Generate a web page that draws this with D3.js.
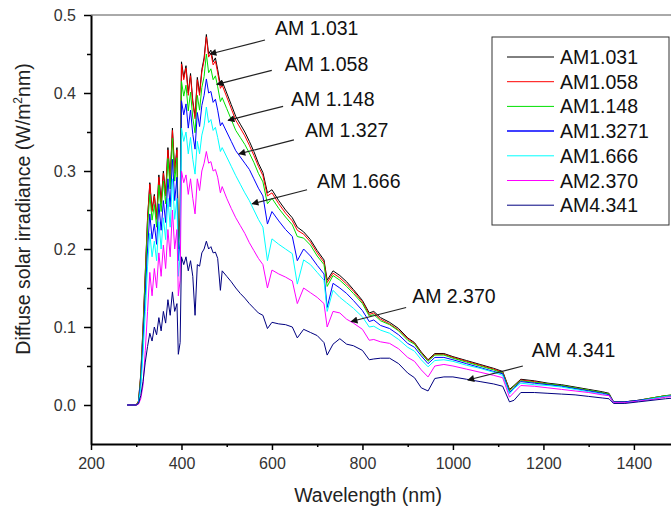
<!DOCTYPE html>
<html>
<head>
<meta charset="utf-8">
<title>Diffuse solar irradiance</title>
<script src="https://cdn.jsdelivr.net/npm/d3@7"></script>
<style>
  body { margin: 0; background: #fff; }
  svg { font-family: "Liberation Sans", Arial, sans-serif; }
</style>
</head>
<body>
<svg id="chart"></svg>
<script>
// wavelengths (nm) and diffuse irradiance (W/m2nm)
var wavelength = [280,300,305,310,315,320,325,330,335,340,
  345,350,355,360,365,370,375,380,385,390,
  393,397,400,405,410,415,420,425,430,435,
  440,445,450,455,460,465,470,475,480,486,
  490,500,510,520,530,540,550,560,570,580,
  590,600,615,630,645,656,670,685,700,715,
  722,735,750,765,780,800,815,825,840,860,
  880,900,915,930,945,960,980,1000,1030,1060,
  1090,1110,1125,1135,1150,1180,1210,1240,1270,1300,
  1330,1345,1355,1380,1410,1440,1470,1490];

var am1031 = [0, 0, 0.005, 0.04, 0.10, 0.17, 0.24, 0.285, 0.25, 0.27,
  0.24, 0.295, 0.26, 0.30, 0.27, 0.33, 0.29, 0.355, 0.30, 0.33,
  0.21, 0.24, 0.44, 0.42, 0.435, 0.40, 0.425, 0.39, 0.37, 0.42,
  0.40, 0.43, 0.445, 0.475, 0.45, 0.455, 0.44, 0.445, 0.43, 0.41,
  0.415, 0.40, 0.385, 0.37, 0.36, 0.35, 0.338, 0.325, 0.31, 0.298,
  0.272, 0.276, 0.262, 0.25, 0.24, 0.228, 0.222, 0.212, 0.198, 0.186,
  0.16, 0.172, 0.166, 0.158, 0.148, 0.134, 0.118, 0.12, 0.112, 0.106,
  0.098, 0.086, 0.08, 0.068, 0.058, 0.066, 0.066, 0.062, 0.057, 0.052,
  0.047, 0.043, 0.02, 0.025, 0.033, 0.031, 0.028, 0.026, 0.023, 0.02,
  0.017, 0.015, 0.004, 0.004, 0.006, 0.009, 0.012, 0.013];

var am1058 = [0, 0, 0.005, 0.038, 0.098, 0.168, 0.238, 0.283, 0.248, 0.268,
  0.238, 0.292, 0.258, 0.297, 0.268, 0.327, 0.288, 0.352, 0.297, 0.327,
  0.208, 0.238, 0.437, 0.417, 0.432, 0.397, 0.422, 0.387, 0.367, 0.417,
  0.397, 0.427, 0.442, 0.472, 0.446, 0.451, 0.436, 0.441, 0.426, 0.406,
  0.41, 0.395, 0.38, 0.365, 0.355, 0.345, 0.333, 0.32, 0.306, 0.294,
  0.268, 0.272, 0.258, 0.246, 0.236, 0.224, 0.219, 0.209, 0.195, 0.183,
  0.157, 0.169, 0.163, 0.155, 0.146, 0.132, 0.116, 0.118, 0.11, 0.104,
  0.096, 0.085, 0.079, 0.067, 0.057, 0.065, 0.065, 0.061, 0.056, 0.051,
  0.046, 0.042, 0.019, 0.024, 0.032, 0.03, 0.027, 0.025, 0.022, 0.019,
  0.016, 0.014, 0.004, 0.004, 0.006, 0.009, 0.012, 0.013];

var am1148 = [0, 0, 0.004, 0.035, 0.092, 0.16, 0.228, 0.27, 0.237, 0.257,
  0.228, 0.282, 0.248, 0.287, 0.258, 0.316, 0.277, 0.342, 0.287, 0.317,
  0.2, 0.23, 0.415, 0.396, 0.41, 0.377, 0.401, 0.368, 0.349, 0.397,
  0.378, 0.407, 0.421, 0.45, 0.426, 0.431, 0.417, 0.422, 0.408, 0.389,
  0.394, 0.38, 0.366, 0.352, 0.343, 0.334, 0.323, 0.311, 0.297, 0.286,
  0.258, 0.265, 0.252, 0.241, 0.231, 0.216, 0.214, 0.205, 0.191, 0.18,
  0.152, 0.166, 0.16, 0.152, 0.143, 0.13, 0.114, 0.116, 0.108, 0.103,
  0.095, 0.083, 0.078, 0.066, 0.056, 0.064, 0.064, 0.06, 0.055, 0.05,
  0.045, 0.041, 0.018, 0.024, 0.031, 0.029, 0.027, 0.025, 0.022, 0.019,
  0.016, 0.014, 0.004, 0.004, 0.006, 0.009, 0.012, 0.013];

var am13271 = [0, 0, 0.003, 0.03, 0.08, 0.14, 0.2, 0.245, 0.213, 0.232,
  0.206, 0.258, 0.224, 0.262, 0.234, 0.29, 0.254, 0.315, 0.262, 0.292,
  0.185, 0.21, 0.39, 0.372, 0.386, 0.355, 0.378, 0.347, 0.328, 0.375,
  0.357, 0.384, 0.397, 0.418, 0.4, 0.402, 0.388, 0.392, 0.378, 0.358,
  0.362, 0.35, 0.338, 0.326, 0.318, 0.31, 0.302, 0.29, 0.278, 0.268,
  0.232, 0.248, 0.236, 0.225, 0.216, 0.185, 0.2, 0.191, 0.179, 0.168,
  0.125, 0.156, 0.15, 0.143, 0.134, 0.121, 0.107, 0.109, 0.102, 0.098,
  0.09, 0.079, 0.074, 0.063, 0.053, 0.061, 0.061, 0.058, 0.053, 0.048,
  0.043, 0.04, 0.016, 0.022, 0.03, 0.028, 0.026, 0.024, 0.021, 0.018,
  0.015, 0.013, 0.004, 0.004, 0.006, 0.008, 0.011, 0.012];

var am1666 = [0, 0, 0.002, 0.022, 0.065, 0.12, 0.178, 0.22, 0.19, 0.21,
  0.185, 0.235, 0.2, 0.24, 0.212, 0.265, 0.228, 0.29, 0.238, 0.265,
  0.165, 0.19, 0.355, 0.338, 0.35, 0.322, 0.343, 0.315, 0.296, 0.338,
  0.322, 0.346, 0.358, 0.382, 0.362, 0.366, 0.352, 0.356, 0.343, 0.325,
  0.33, 0.318, 0.306, 0.294, 0.283, 0.272, 0.262, 0.25, 0.238, 0.228,
  0.185, 0.213, 0.206, 0.2, 0.194, 0.155, 0.186, 0.18, 0.17, 0.16,
  0.12, 0.147, 0.138, 0.131, 0.124, 0.113, 0.1, 0.101, 0.096, 0.092,
  0.084, 0.074, 0.069, 0.058, 0.049, 0.057, 0.058, 0.056, 0.051, 0.047,
  0.042, 0.038, 0.014, 0.021, 0.028, 0.026, 0.025, 0.023, 0.02, 0.017,
  0.014, 0.012, 0.003, 0.003, 0.005, 0.008, 0.011, 0.012];

var am2370 = [0, 0, 0.001, 0.008, 0.025, 0.07, 0.12, 0.17, 0.14, 0.175,
  0.15, 0.195, 0.165, 0.205, 0.175, 0.225, 0.19, 0.25, 0.2, 0.225,
  0.14, 0.16, 0.3, 0.285, 0.295, 0.27, 0.29, 0.265, 0.245, 0.29,
  0.275, 0.3, 0.31, 0.325, 0.31, 0.312, 0.3, 0.302, 0.292, 0.272,
  0.28, 0.265, 0.252, 0.24, 0.23, 0.22, 0.208, 0.198, 0.188, 0.18,
  0.15, 0.173, 0.168, 0.164, 0.159, 0.13, 0.15, 0.144, 0.138, 0.13,
  0.1, 0.12, 0.118, 0.11, 0.105, 0.097, 0.083, 0.084, 0.081, 0.079,
  0.072, 0.061, 0.056, 0.045, 0.036, 0.05, 0.052, 0.05, 0.046, 0.042,
  0.038, 0.035, 0.01, 0.016, 0.025, 0.024, 0.022, 0.02, 0.018, 0.016,
  0.013, 0.012, 0.003, 0.003, 0.005, 0.007, 0.01, 0.011];

var am4341 = [0, 0, 0.002, 0.012, 0.03, 0.055, 0.075, 0.092, 0.082, 0.1,
  0.09, 0.112, 0.095, 0.12, 0.105, 0.135, 0.115, 0.145, 0.12, 0.13,
  0.065, 0.08, 0.19, 0.18, 0.19, 0.172, 0.185, 0.165, 0.115, 0.18,
  0.178, 0.195, 0.2, 0.21, 0.2, 0.203, 0.195, 0.196, 0.188, 0.147,
  0.172, 0.165, 0.158, 0.15, 0.143, 0.137, 0.13, 0.124, 0.118, 0.115,
  0.098, 0.106, 0.104, 0.103, 0.1, 0.086, 0.097, 0.093, 0.089, 0.08,
  0.064, 0.078, 0.085, 0.078, 0.076, 0.07, 0.058, 0.059, 0.06, 0.06,
  0.053, 0.041, 0.035, 0.022, 0.018, 0.034, 0.036, 0.036, 0.033, 0.03,
  0.027, 0.024, 0.004, 0.006, 0.016, 0.016, 0.015, 0.014, 0.013, 0.011,
  0.009, 0.008, 0.002, 0.002, 0.004, 0.006, 0.008, 0.009];

var seriesNames = ["AM1.031", "AM1.058", "AM1.148", "AM1.3271", "AM1.666", "AM2.370", "AM4.341"];
var seriesValues = [am1031, am1058, am1148, am13271, am1666, am2370, am4341];
var colors = ["#000000", "#ff0000", "#00e000", "#0000ff", "#00ffff", "#ff00ff", "#000080"];

var xTicks = [200, 400, 600, 800, 1000, 1200, 1400];
var xMinor = [300, 500, 700, 900, 1100, 1300];
var yTicks = [0.0, 0.1, 0.2, 0.3, 0.4, 0.5];
var yMinor = [0.05, 0.15, 0.25, 0.35, 0.45];

// arrow labels: tip on the curve (nm, value), text offset from tip in px
var notes = [
  {text: "AM 1.031", nm: 463, v: 0.450, tx: 65, ty: -19},
  {text: "AM 1.058", nm: 478, v: 0.411, tx: 68, ty: -13},
  {text: "AM 1.148", nm: 503, v: 0.365, tx: 63, ty: -14},
  {text: "AM 1.327", nm: 527, v: 0.322, tx: 66, ty: -17},
  {text: "AM 1.666", nm: 556, v: 0.258, tx: 65, ty: -16},
  {text: "AM 2.370", nm: 775, v: 0.107, tx: 61, ty: -19},
  {text: "AM 4.341", nm: 1033, v: 0.032, tx: 64, ty: -23}
];

var width = 671, height = 509;
var plotLeft = 91, plotRight = 671, plotTop = 15, plotBottom = 444;

var svg = d3.select("#chart").attr("width", width).attr("height", height);

var x = d3.scaleLinear().domain([200, 1482]).range([plotLeft, plotRight]);
var y = d3.scaleLinear().domain([-0.05, 0.5]).range([plotBottom, plotTop]);

svg.append("clipPath").attr("id", "plotclip")
  .append("rect").attr("x", plotLeft).attr("y", plotTop)
  .attr("width", plotRight - plotLeft).attr("height", plotBottom - plotTop);

// top frame line
svg.append("line")
  .attr("x1", plotLeft).attr("x2", plotRight).attr("y1", plotTop).attr("y2", plotTop)
  .attr("stroke", "#555").attr("stroke-width", 1);

// curves
var line = d3.line()
  .x(function(d) { return x(d[0]); })
  .y(function(d) { return y(d[1]); });

var curves = svg.append("g").attr("clip-path", "url(#plotclip)");
seriesValues.forEach(function(vals, i) {
  var pts = wavelength.map(function(w, j) { return [w, vals[j]]; });
  curves.append("path")
    .attr("d", line(pts))
    .attr("fill", "none")
    .attr("stroke", colors[i])
    .attr("stroke-width", 1)
    .attr("stroke-linejoin", "round");
});

// axes
svg.append("g").attr("transform", "translate(0," + plotBottom + ")")
  .call(d3.axisBottom(x).tickValues(xTicks).tickSize(6).tickSizeOuter(0).tickPadding(8)
    .tickFormat(d3.format("d")));
svg.append("g").attr("transform", "translate(0," + plotBottom + ")")
  .call(d3.axisBottom(x).tickValues(xMinor).tickSize(3).tickSizeOuter(0).tickFormat(""))
  .select(".domain").remove();

svg.append("g").attr("transform", "translate(" + plotLeft + ",0)")
  .call(d3.axisLeft(y).tickValues(yTicks).tickSize(7).tickSizeOuter(0).tickPadding(8)
    .tickFormat(d3.format(".1f")));
svg.append("g").attr("transform", "translate(" + plotLeft + ",0)")
  .call(d3.axisLeft(y).tickValues(yMinor).tickSize(4).tickSizeOuter(0).tickFormat(""))
  .select(".domain").remove();

svg.selectAll(".domain").attr("stroke", "#000").attr("stroke-width", 2);
svg.selectAll(".tick line").attr("stroke", "#000").attr("stroke-width", 1.5);
svg.selectAll(".tick text")
  .attr("font-size", 16).attr("fill", "#333")
  .attr("font-family", "'Liberation Sans', Arial, sans-serif");

// axis titles
svg.append("text")
  .attr("x", 368).attr("y", 502)
  .attr("text-anchor", "middle")
  .attr("font-size", 19.5).attr("fill", "#222")
  .text("Wavelength (nm)");

var yTitle = svg.append("text")
  .attr("transform", "translate(30,209) rotate(-90)")
  .attr("text-anchor", "middle")
  .attr("font-size", 19.5).attr("fill", "#222");
yTitle.append("tspan").text("Diffuse solar irradiance (W/m");
yTitle.append("tspan").attr("dy", -8).attr("font-size", 12).text("2");
yTitle.append("tspan").attr("dy", 8).text("nm)");

// arrow annotations
svg.append("defs").append("marker")
  .attr("id", "arrow")
  .attr("viewBox", "0 0 10 10")
  .attr("refX", 9).attr("refY", 5)
  .attr("markerWidth", 9).attr("markerHeight", 7)
  .attr("markerUnits", "userSpaceOnUse")
  .attr("orient", "auto")
  .append("path").attr("d", "M0,0L10,5L0,10Z").attr("fill", "#111");

notes.forEach(function(n) {
  var px = x(n.nm), py = y(n.v);
  svg.append("line")
    .attr("x1", px + 55).attr("y1", py - 14)
    .attr("x2", px).attr("y2", py)
    .attr("stroke", "#222").attr("stroke-width", 1.2)
    .attr("marker-end", "url(#arrow)");
  svg.append("text")
    .attr("x", px + n.tx).attr("y", py + n.ty)
    .attr("font-size", 19.5).attr("fill", "#111")
    .text(n.text);
});

// legend
var legend = svg.append("g");
legend.append("rect")
  .attr("x", 492).attr("y", 37).attr("width", 177).attr("height", 188)
  .attr("fill", "#fff").attr("stroke", "#333").attr("stroke-width", 1);
seriesNames.forEach(function(name, i) {
  var ly = 57 + i * 24.7;
  legend.append("line")
    .attr("x1", 507).attr("x2", 554).attr("y1", ly).attr("y2", ly)
    .attr("stroke", colors[i]).attr("stroke-width", i == 3 ? 1.5 : 1);
  legend.append("text")
    .attr("x", 560).attr("y", ly + 7)
    .attr("font-size", 19.5).attr("fill", "#111")
    .text(name);
});
</script>
</body>
</html>
